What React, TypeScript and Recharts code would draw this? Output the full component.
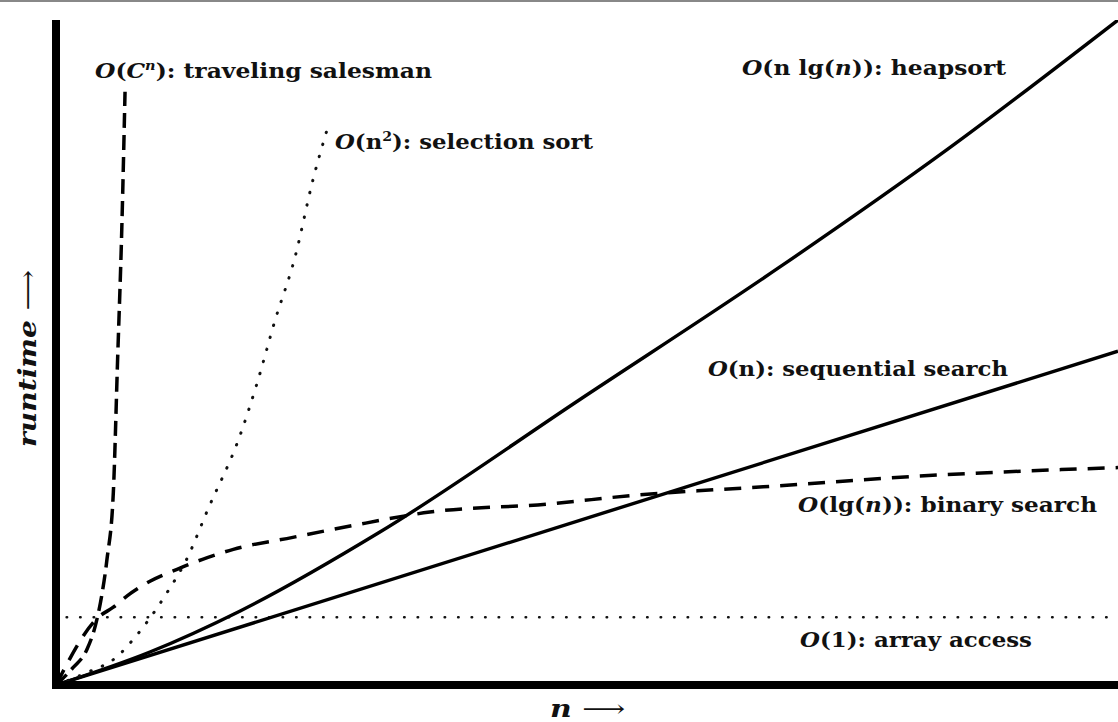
import React from 'react';
import { LineChart, Line, XAxis, YAxis } from 'recharts';

// n axis runs 0..100, runtime axis 0..100
const CONST_X = [1, 100];
const CONST_Y = [10.2, 10.2];

const LG_X = [0, 4.0, 5.4, 6.7, 8.85, 11.4, 13.8, 16.7, 22.3, 27.7, 35.2, 46.2, 55.0, 60.4, 66.6, 81.1, 100];
const LG_Y = [0, 10.2, 11.7, 13.4, 15.6, 17.4, 18.9, 20.4, 22.2, 23.9, 26.0, 27.2, 28.6, 29.2, 29.8, 31.4, 32.7];

const LINEAR_X = [0, 100];
const LINEAR_Y = [0, 50.2];

const NLGN_X = [0, 8.9, 17.3, 30.5, 49.3, 68.2, 83.9, 100];
const NLGN_Y = [0, 5.0, 11.1, 23.0, 42.9, 62.9, 80.5, 100];

const QUAD_X = [0, 2.8, 5.7, 7.4, 9.0, 10.5, 12.3, 14.3, 17.3, 18.9, 20.6, 22.5, 24.2, 25.6];
const QUAD_Y = [0, 1.8, 4.2, 7.1, 10.4, 14.0, 18.9, 26.4, 37.4, 45.2, 54.7, 64.3, 76.0, 83.9];

const EXP_X = [0, 1.6, 2.9, 3.7, 4.3, 4.8, 5.4, 5.8, 6.2, 6.5];
const EXP_Y = [0, 2.6, 5.3, 8.9, 13.4, 18.9, 29.0, 48.9, 68.9, 89.2];

const toPoints = (xs: number[], ys: number[]) => xs.map((x, i) => ({ x, y: ys[i] }));

const FONT = '"DejaVu Serif", serif';

const App = () => {
    const labelStyle = { fontFamily: FONT, fontWeight: 700, fontSize: 21, fill: '#111' } as const;
    return (
        <div style={{ position: 'absolute', left: 0, top: 0, width: 1118, height: 722, background: '#fff' }}>
            <LineChart width={1118} height={722} data={[]} margin={{ top: 20, right: 0, bottom: 0, left: 0 }}>
                <XAxis
                    type="number"
                    dataKey="x"
                    domain={[0, 100]}
                    allowDataOverflow
                    height={37}
                    tick={false}
                    tickLine={false}
                    axisLine={{ stroke: '#000', strokeWidth: 8, strokeLinecap: 'square' }}
                />
                <YAxis
                    type="number"
                    dataKey="y"
                    domain={[0, 100]}
                    allowDataOverflow
                    width={56}
                    tick={false}
                    tickLine={false}
                    axisLine={{ stroke: '#000', strokeWidth: 8 }}
                />
                <Line data={toPoints(CONST_X, CONST_Y)} dataKey="y" type="linear" stroke="#111" strokeWidth={2.5}
                    strokeDasharray="0.5 13" strokeLinecap="round" dot={false} isAnimationActive={false} />
                <Line data={toPoints(LG_X, LG_Y)} dataKey="y" type="monotone" stroke="#000" strokeWidth={3.5}
                    strokeDasharray="17 11" dot={false} isAnimationActive={false} />
                <Line data={toPoints(LINEAR_X, LINEAR_Y)} dataKey="y" type="linear" stroke="#000" strokeWidth={3.4}
                    dot={false} isAnimationActive={false} />
                <Line data={toPoints(NLGN_X, NLGN_Y)} dataKey="y" type="monotone" stroke="#000" strokeWidth={3.4}
                    dot={false} isAnimationActive={false} />
                <Line data={toPoints(QUAD_X, QUAD_Y)} dataKey="y" type="monotone" stroke="#111" strokeWidth={3}
                    strokeDasharray="0.5 12" strokeLinecap="round" dot={false} isAnimationActive={false} />
                <Line data={toPoints(EXP_X, EXP_Y)} dataKey="y" type="monotone" stroke="#000" strokeWidth={3.5}
                    strokeDasharray="15 7" dot={false} isAnimationActive={false} />
            </LineChart>
            <svg width={1118} height={722} style={{ position: 'absolute', left: 0, top: 0, pointerEvents: 'none' }}>
                <rect x={0} y={0} width={1118} height={2} fill="#888" />
                <text x={95} y={78} {...labelStyle} textLength={337} lengthAdjust="spacingAndGlyphs">
                    <tspan fontStyle="italic">O</tspan>(<tspan fontStyle="italic">C</tspan>
                    <tspan dy={-8} fontSize={13} fontStyle="italic">n</tspan>
                    <tspan dy={8}>): traveling salesman</tspan>
                </text>
                <text x={742} y={75} {...labelStyle} textLength={264} lengthAdjust="spacingAndGlyphs">
                    <tspan fontStyle="italic">O</tspan>(n lg(<tspan fontStyle="italic">n</tspan>)): heapsort
                </text>
                <text x={335} y={149} {...labelStyle} textLength={258} lengthAdjust="spacingAndGlyphs">
                    <tspan fontStyle="italic">O</tspan>(n
                    <tspan dy={-8} fontSize={13}>2</tspan>
                    <tspan dy={8}>): selection sort</tspan>
                </text>
                <text x={708} y={376} {...labelStyle} textLength={300} lengthAdjust="spacingAndGlyphs">
                    <tspan fontStyle="italic">O</tspan>(n): sequential search
                </text>
                <text x={798} y={512} {...labelStyle} textLength={299} lengthAdjust="spacingAndGlyphs">
                    <tspan fontStyle="italic">O</tspan>(lg(<tspan fontStyle="italic">n</tspan>)): binary search
                </text>
                <text x={800} y={647} {...labelStyle} textLength={232} lengthAdjust="spacingAndGlyphs">
                    <tspan fontStyle="italic">O</tspan>(1): array access
                </text>
                <text transform="translate(36,447) rotate(-90)" fontFamily={FONT} fontSize={24} fontStyle="italic"
                    fontWeight={700} fill="#111" textLength={177} lengthAdjust="spacingAndGlyphs">
                    runtime <tspan fontStyle="normal" fontWeight={400}>⟶</tspan>
                </text>
                <text x={550} y={717} fontFamily={FONT} fontSize={24} fontWeight={700} fill="#111"
                    textLength={75} lengthAdjust="spacingAndGlyphs">
                    <tspan fontStyle="italic">n</tspan> <tspan fontWeight={400}>⟶</tspan>
                </text>
            </svg>
        </div>
    );
};

export default App;
